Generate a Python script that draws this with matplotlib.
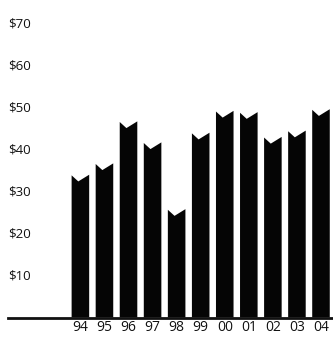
import matplotlib.pyplot as plt

# Year-end share price, one bar per year
years = ["94", "95", "96", "97", "98", "99", "00", "01", "02", "03", "04"]
prices = [34.0, 36.7, 46.7, 41.7, 25.8, 44.0, 49.2, 48.9, 43.0, 44.5, 49.6]
y_ticks = [10, 20, 30, 40, 50, 60, 70]
y_labels = ["$10", "$20", "$30", "$40", "$50", "$60", "$70"]

BAR_WIDTH = 0.73
NOTCH = 1.6      # depth of the V cut in the bar top
NOTCH_POS = 0.38  # where the V sits across the bar

plt.rcParams['font.family'] = ['Open Sans', 'DejaVu Sans']

fig = plt.figure(figsize=(3.33, 3.39), dpi=100)
ax = fig.add_axes([8 / 333, 21.5 / 339, 1 - 8 / 333, 1 - 21.5 / 339])

for i, p in enumerate(prices):
    x0 = i - BAR_WIDTH / 2
    x1 = i + BAR_WIDTH / 2
    xs = [x0, x0, x0 + NOTCH_POS * BAR_WIDTH, x1, x1]
    ys = [0, p - 0.15, p - NOTCH, p, 0]
    ax.fill(xs, ys, color="#050505", linewidth=0)

ax.set_xlim(-3.009, 10.499)
ax.set_ylim(0, 75.6)

ax.set_xticks(range(len(years)))
ax.set_xticklabels(years, fontsize=10, color="#111111")
ax.tick_params(axis="x", length=0, pad=2)
ax.set_yticks([])

# dollar labels sit inside the plot at the left edge
for v, lab in zip(y_ticks, y_labels):
    ax.text(0.0, v, lab, transform=ax.get_yaxis_transform(),
            ha="left", va="center", fontsize=9.5, color="#111111")

for side in ["top", "right", "left"]:
    ax.spines[side].set_visible(False)
ax.spines["bottom"].set_linewidth(2)
ax.spines["bottom"].set_color("#111111")

fig.savefig("out.png", dpi=100)
